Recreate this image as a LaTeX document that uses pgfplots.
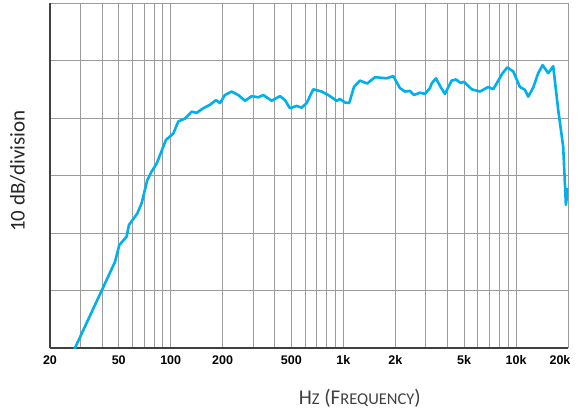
\documentclass[border=0pt]{standalone}
\usepackage{pgfplots}
\pgfplotsset{compat=1.18}
\usepackage{fontspec}
\setmainfont{Carlito}
\newfontfamily\tickfont{Liberation Sans}
\definecolor{curve}{RGB}{0,176,236}
\definecolor{gridc}{RGB}{155,155,155}
\begin{document}
\begin{tikzpicture}
\begin{axis}[
    scale only axis,
    width=518bp, height=345bp,
    xmode=log,
    xmin=20, xmax=20000,
    ymin=0, ymax=60,
    axis x line*=bottom,
    axis y line*=left,
    axis line style={line width=1.3bp, black!75},
    xtick={20,50,100,200,500,1000,2000,5000,10000,20000},
    xticklabels={20,50,100,200,500,1k,2k,5k,10k,\makebox[0pt]{\kern-16bp 20k}},
    minor xtick={30,40,60,70,80,90,300,400,600,700,800,900,3000,4000,6000,7000,8000,9000},
    ytick={0,10,20,30,40,50,60},
    yticklabels={},
    major tick length=0pt, minor tick length=0pt,
    xmajorgrids, xminorgrids, ymajorgrids,
    grid style={line width=0.8bp, gridc},
    minor grid style={line width=0.8bp, gridc},
    xticklabel style={font=\tickfont\bfseries\fontsize{12.5bp}{14bp}\selectfont, yshift=-4bp},
    log ticks with fixed point,
    xlabel={H{\fontsize{16.5bp}{19bp}\selectfont Z} (F{\fontsize{16.5bp}{19bp}\selectfont REQUENCY})},
    xlabel style={font=\fontsize{21bp}{24bp}\selectfont, color=black!75, at={(axis description cs:0.598,-0.145)}, anchor=center},
    ylabel={10 dB/division},
    ylabel style={font=\fontsize{21bp}{24bp}\selectfont, color=black!85, at={(axis description cs:-0.062,0.513)}, anchor=center},
]
\addplot[curve, line width=2.6bp, line join=round] coordinates {
    (27.5,-0.6)(27.9,0)(40,10.1)(47.6,15.0)(50.4,17.9)(55.6,19.4)(57.3,21.4)
    (64.1,23.4)(67.9,25.2)(73.2,29.2)(77.6,30.7)(83.0,32.1)(93.9,36.2)
    (103.5,37.3)(110.7,39.4)(121,39.9)(132.3,41.1)(141.4,40.9)(154.4,41.7)
    (168.9,42.3)(182.9,43.1)(192.9,42.6)(206.2,44.0)(225.5,44.6)(246.2,44.0)
    (269.3,43.0)(294.4,43.8)(321.6,43.6)(343.7,44.0)(384.4,43.0)(429.5,43.8)
    (459.1,43.1)(490.7,41.7)(536.5,42.1)(573.4,41.8)(613,42.6)(669.5,45.0)
    (748.6,44.6)(817.6,44.0)(914.4,43.0)(955.6,43.3)(1021.6,42.7)(1081.8,42.6)
    (1151.6,45.4)(1247,46.5)(1375,46.0)(1524,47.1)(1781,46.9)(1945,47.3)
    (2126,45.2)(2273,44.6)(2430,44.7)(2564,44.0)(2777,44.4)(2968,44.2)
    (3173,45.2)(3246,46.0)(3437,46.9)(3658,45.4)(3875,44.2)(4237,46.5)
    (4487,46.7)(4776,46.1)(4992,46.3)(5532,45.0)(6181,44.6)(6903,45.4)
    (7376,45.0)(8363,47.8)(8892,48.8)(9632,48.1)(10532,45.4)(11258,44.9)
    (11764,43.7)(12574,45.3)(13440,47.8)(14257,49.2)(15358,47.8)(16418,49.0)
    (17550,41.4)(18758,35.0)(19446,24.9)(20000,27.8)
};
\coordinate (bl) at (rel axis cs:0,0);
\coordinate (tr) at (rel axis cs:1,1);
\end{axis}
\pgfresetboundingbox
\path ([shift={(-50bp,-65bp)}]bl) rectangle ([shift={(10bp,3bp)}]tr);
\end{tikzpicture}
\end{document}
